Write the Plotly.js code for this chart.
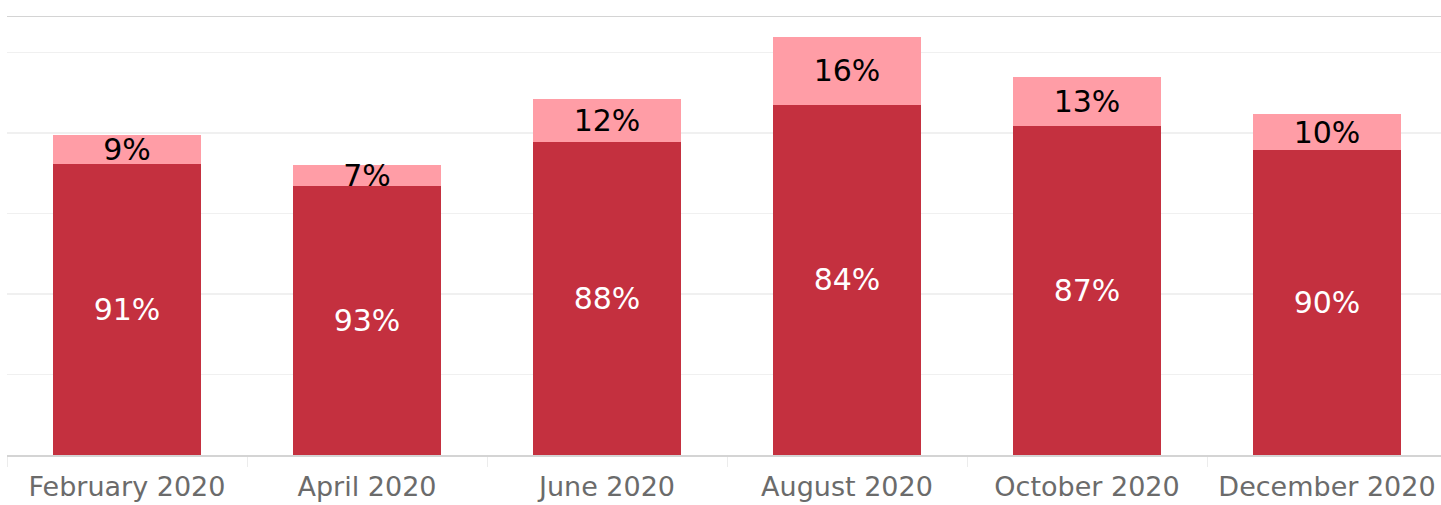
<!DOCTYPE html>
<html>
<head>
<meta charset="utf-8">
<script src="https://cdn.plot.ly/plotly-3.0.1.min.js"></script>
<style>
html,body{margin:0;padding:0;overflow:hidden;background:#fff;}
#chart{width:1447px;height:505px;}
</style>
</head>
<body>
<div id="chart"></div>
<script>
const months = ["February 2020", "April 2020", "June 2020", "August 2020", "October 2020", "December 2020"];
const darkValues = [362, 334, 389, 435, 409, 379];
const lightValues = [36, 26, 53, 84, 61, 44];

const totals = darkValues.map((v, i) => v + lightValues[i]);
const pct = (v, t) => Math.round(100 * v / t) + "%";
const darkText = darkValues.map((v, i) => pct(v, totals[i]));
const lightText = lightValues.map((v, i) => pct(v, totals[i]));

const FONT = "DejaVu Sans, sans-serif";

const traces = [
  {
    type: "bar", x: months, y: darkValues, text: darkText,
    marker: {color: "#C4303F", line: {width: 0}},
    textposition: "inside", insidetextanchor: "middle", textangle: 0,
    textfont: {family: FONT, size: 30, color: "#ffffff"},
    hoverinfo: "none", cliponaxis: false
  },
  {
    type: "bar", x: months, y: lightValues, text: lightText,
    marker: {color: "#FF9DA6", line: {width: 0}},
    textposition: "inside", insidetextanchor: "middle", textangle: 0,
    textfont: {family: FONT, size: 30, color: "#000000"},
    hoverinfo: "none", cliponaxis: false
  }
];

const layout = {
  width: 1447, height: 505,
  margin: {l: 7, r: 0, t: 17, b: 50, pad: 0},
  barmode: "stack", bargap: 0.383,
  showlegend: false,
  paper_bgcolor: "#ffffff", plot_bgcolor: "#ffffff",
  uniformtext: {mode: "show", minsize: 30},
  xaxis: {
    type: "category", range: [-0.5, 5.5],
    showline: true, linecolor: "#d4d4d4", linewidth: 1.5, mirror: true,
    ticks: "outside", tickson: "boundaries", ticklen: 10, tickcolor: "#ececec", tickwidth: 1,
    ticklabelstandoff: 7,
    tickfont: {family: FONT, size: 27, color: "#6b6b6b"},
    showgrid: false, zeroline: false, fixedrange: true
  },
  yaxis: {
    range: [0, 544], dtick: 100, tick0: 0,
    showticklabels: false, ticks: "",
    showgrid: true, gridcolor: "#f0f0f0", gridwidth: 1.5,
    zeroline: false, showline: false, fixedrange: true
  }
};

Plotly.newPlot("chart", traces, layout, {displayModeBar: false, staticPlot: true});
</script>
</body>
</html>
